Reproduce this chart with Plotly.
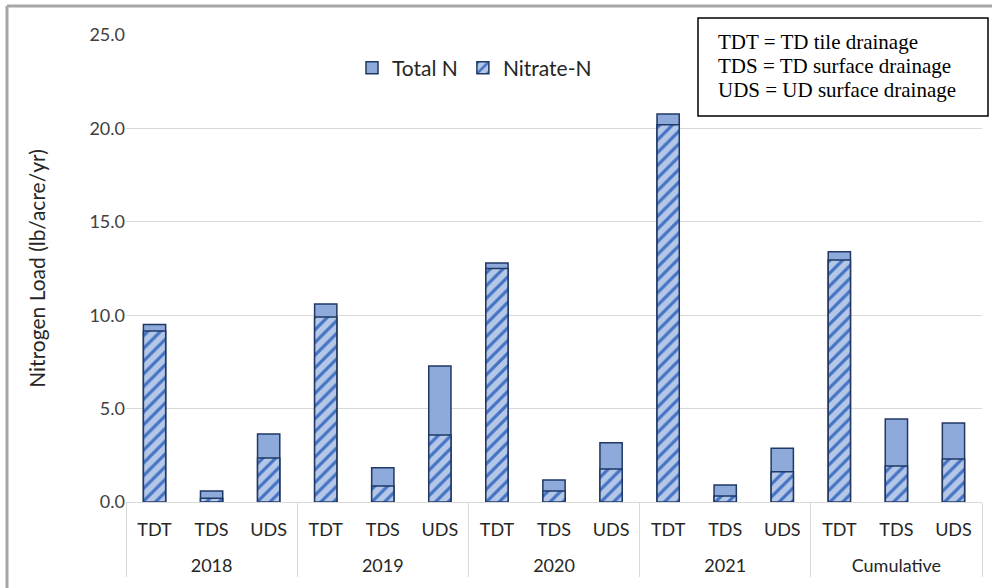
import plotly.graph_objects as go

years = ["2018", "2018", "2018", "2019", "2019", "2019", "2020", "2020", "2020",
         "2021", "2021", "2021", "Cumulative", "Cumulative", "Cumulative"]
sites = ["TDT", "TDS", "UDS"] * 5
total_n = [9.5, 0.59, 3.64, 10.6, 1.83, 7.28, 12.8, 1.18, 3.17, 20.77, 0.91, 2.88, 13.4, 4.44, 4.23]
nitrate_n = [9.15, 0.2, 2.36, 9.9, 0.86, 3.59, 12.5, 0.59, 1.77, 20.2, 0.32, 1.62, 12.95, 1.93, 2.3]
key_lines = ["TDT = TD tile drainage", "TDS = TD surface drainage", "UDS = UD surface drainage"]

# push the year row lower, like the reference
year_labels = ["<br>" + y for y in years]

font_main = "Lato, Open Sans, sans-serif"
edge = "#1f3864"

fig = go.Figure()
fig.add_trace(go.Bar(
    x=[year_labels, sites], y=total_n, name="Total N", width=0.39,
    marker=dict(color="#8eaadb", line=dict(color=edge, width=1.5)),
))
fig.add_trace(go.Bar(
    x=[year_labels, sites], y=nitrate_n, name="Nitrate-N", width=0.39,
    marker=dict(color="#b4c7e7", line=dict(color=edge, width=1.5),
                pattern=dict(shape="/", fgcolor="#4472c4", bgcolor="#b4c7e7",
                             size=9, solidity=0.35, fillmode="replace")),
))

L, R, T, B = 126, 10, 35, 86
W, H = 992, 588
pw, ph = W - L - R, H - T - B

def px(x):
    return (x - L) / pw

def py(y):
    return (H - B - y) / ph

annotations = []
for i, line in enumerate(key_lines):
    annotations.append(dict(
        text=line, xref="paper", yref="paper", x=px(716), y=py(42 + 24 * i),
        xanchor="left", yanchor="middle", align="left", showarrow=False,
        font=dict(family="Liberation Serif, Times New Roman, serif", size=21, color="black"),
    ))

fig.update_layout(
    width=W, height=H,
    barmode="overlay",
    paper_bgcolor="white", plot_bgcolor="white",
    margin=dict(l=L, r=R, t=T, b=B),
    font=dict(family=font_main, size=18, color="#404040"),
    legend=dict(orientation="h", x=px(352), y=py(68), xanchor="left", yanchor="middle",
                font=dict(size=21, color="#262626"), bgcolor="rgba(0,0,0,0)",
                itemwidth=30),
    showlegend=True,
    yaxis=dict(range=[0, 25], dtick=5, tickformat=".1f", showgrid=True,
               gridcolor="#d9d9d9", gridwidth=1, zeroline=False, showline=False,
               ticks="", tickfont=dict(size=18, color="#404040"),
               title=dict(text="Nitrogen Load (lb/acre/yr)", font=dict(size=21, color="#262626"),
                          standoff=38)),
    xaxis=dict(type="multicategory", showline=True, linecolor="#d9d9d9", linewidth=1,
               showdividers=True, dividercolor="#d9d9d9", dividerwidth=1,
               tickfont=dict(size=18, color="#262626"), ticks="", ticklabelstandoff=11),
    annotations=annotations,
    shapes=[
        dict(type="rect", xref="paper", yref="paper", x0=px(698), x1=px(988), y0=py(18), y1=py(116),
             line=dict(color="black", width=1.5), fillcolor="white", layer="above"),
        dict(type="line", xref="paper", yref="paper", x0=px(7), x1=px(7), y0=py(6), y1=py(590),
             line=dict(color="#a6a6a6", width=3)),
        dict(type="line", xref="paper", yref="paper", x0=px(7), x1=px(995), y0=py(6), y1=py(6),
             line=dict(color="#a6a6a6", width=3)),
    ],
)

fig.write_html("out.html", config={"displayModeBar": False},
               post_script="document.body.style.margin='0';")
